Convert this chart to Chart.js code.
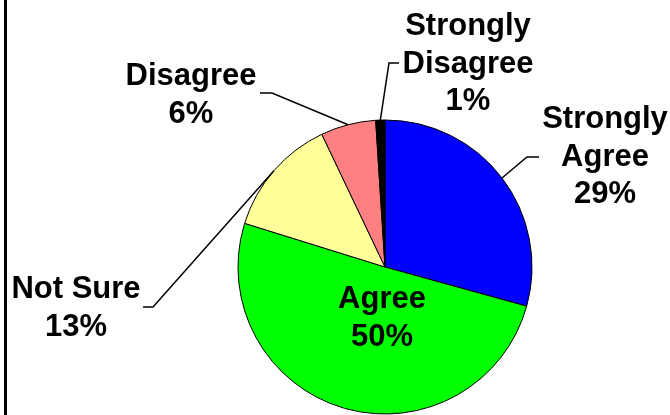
<!DOCTYPE html>
<html>
<head>
<meta charset="utf-8">
<title>Survey responses</title>
<script src="https://cdn.jsdelivr.net/npm/chart.js@4.4.1/dist/chart.umd.min.js"></script>
<style>
  html, body { margin: 0; padding: 0; background: #fff; }
  canvas { display: block; }
</style>
</head>
<body>
<canvas id="pie" width="670" height="415"></canvas>
<script>
// Answer categories, clockwise from 12 o'clock
const categories = [
    ['Strongly', 'Agree'],
    ['Agree'],
    ['Not Sure'],
    ['Disagree'],
    ['Strongly', 'Disagree']
];
// Percent of respondents
const percents = [29, 50, 13, 6, 1];
const sliceColors = ['#0000FF', '#00FF00', '#FFFF99', '#FF8080', '#000000'];

// Where each label sits (center x, first baseline) and its leader line (elbow, end)
const labelLayout = [
    { x: 605, y: 128, leader: [[527, 157], [539, 157]] },
    { x: 382, y: 308, leader: null },
    { x: 76,  y: 298, leader: [[153, 307], [143, 307]] },
    { x: 191, y: 85,  leader: [[272, 93], [260, 93]] },
    { x: 468, y: 35,  leader: [[389, 63], [399, 63]] }
];
const LINE_PITCH = 37.5;

// labels + leader lines drawn on top of the slices
const sliceLabels = {
    id: 'sliceLabels',
    afterDatasetsDraw(chart) {
        const ctx = chart.ctx;
        const arcs = chart.getDatasetMeta(0).data;
        const labels = chart.data.labels;
        const values = chart.data.datasets[0].data;

        ctx.save();
        arcs.forEach((arc, i) => {
            const lay = labelLayout[i];
            if (lay.leader) {
                const mid = (arc.startAngle + arc.endAngle) / 2;
                const ax = arc.x + Math.cos(mid) * arc.outerRadius;
                const ay = arc.y + Math.sin(mid) * arc.outerRadius;
                ctx.beginPath();
                ctx.moveTo(ax, ay);
                lay.leader.forEach(p => ctx.lineTo(p[0], p[1]));
                ctx.strokeStyle = '#000';
                ctx.lineWidth = 1.5;
                ctx.stroke();
            }

            const lines = [...labels[i], values[i] + '%'];
            ctx.fillStyle = '#000';
            ctx.font = 'bold 31px "Liberation Sans", Arial, sans-serif';
            ctx.textAlign = 'center';
            ctx.textBaseline = 'alphabetic';
            lines.forEach((t, k) => ctx.fillText(t, lay.x, lay.y + k * LINE_PITCH));
        });
        ctx.restore();
    }
};

// page frame: thin black rule down the left side
const frame = {
    id: 'frame',
    beforeDraw(chart) {
        const ctx = chart.ctx;
        ctx.save();
        ctx.fillStyle = '#fff';
        ctx.fillRect(0, 0, chart.width, chart.height);
        ctx.fillStyle = '#000';
        ctx.fillRect(4, 0, 3, chart.height);
        ctx.restore();
    }
};

new Chart(document.getElementById('pie'), {
    type: 'pie',
    data: {
        labels: categories,
        datasets: [{
            data: percents,
            backgroundColor: sliceColors,
            borderColor: '#000',
            borderWidth: 1,
            radius: 147
        }]
    },
    options: {
        responsive: false,
        animation: false,
        events: [],
        layout: { padding: { left: 100, right: 0, top: 119, bottom: 0 } },
        plugins: {
            legend: { display: false },
            tooltip: { enabled: false }
        }
    },
    plugins: [frame, sliceLabels]
});
</script>
</body>
</html>
